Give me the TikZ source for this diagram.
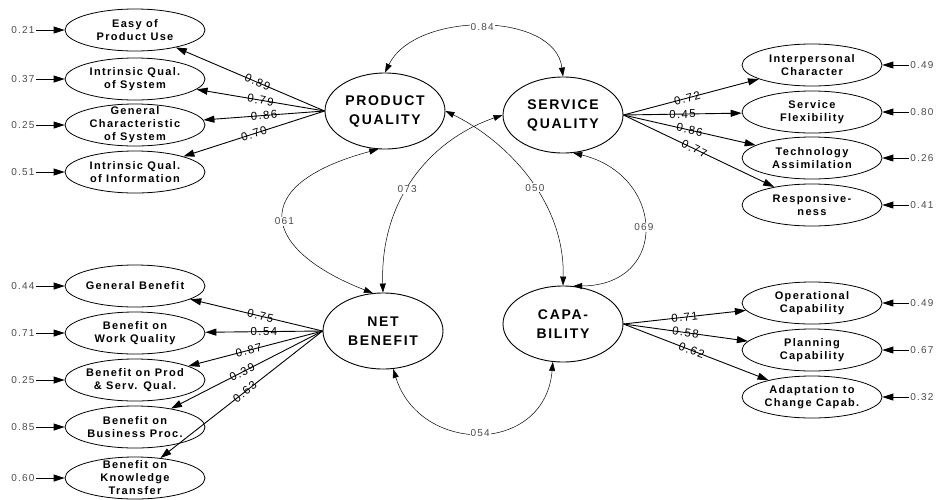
\documentclass[tikz,border=0pt]{standalone}
\usepackage{fontspec}
\setmainfont{Liberation Sans}
\newfontfamily\semfont[LetterSpace=12]{Liberation Sans}
\usepackage{tikz}
\usetikzlibrary{arrows.meta,shapes.geometric}
\definecolor{semgray}{HTML}{4A4A4A}

\tikzset{
  latent/.style={ellipse, draw, line width=0.9pt, minimum width=120pt, minimum height=76pt,
    inner sep=0pt, align=center, font=\semfont\bfseries\fontsize{14}{19}\selectfont},
  ind/.style={ellipse, draw, line width=0.8pt, minimum width=140pt, minimum height=42pt,
    inner xsep=-3pt, inner ysep=-6pt, align=center, font=\semfont\bfseries\fontsize{11}{13}\selectfont},
  err/.style={font=\semfont\fontsize{10}{12}\selectfont, text=semgray, inner sep=1.5pt},
  errarrow/.style={-{Triangle[length=11pt,width=7pt]}, line width=0.9pt},
  load/.style={-{Triangle[length=11pt,width=7pt]}, line width=0.9pt},
  lam/.style={sloped, font=\semfont\fontsize{11.5}{13}\selectfont, inner sep=0pt},
  cov/.style={{Triangle[length=9pt,width=6pt]}-{Triangle[length=9pt,width=6pt]}, line width=0.5pt},
  covlab/.style={fill=white, text=semgray, font=\semfont\fontsize{10}{12}\selectfont, inner sep=1pt},
}

\begin{document}
\begin{tikzpicture}[x=1pt, y=-1pt]
  \useasboundingbox (0,0) rectangle (938,499);

  % latent constructs
  \node[latent] (pq) at (385,111) {PRODUCT\\QUALITY};
  \node[latent] (sq) at (563,115) {SERVICE\\QUALITY};
  \node[latent] (nb) at (383,331) {NET\\BENEFIT};
  \node[latent] (cap) at (563,324) {CAPA-\\BILITY};

  % product quality indicators
  \node[ind] (pq1) at (135,30) {Easy of\\Product Use};
  \node[ind] (pq2) at (135,79) {Intrinsic Qual.\\of System};
  \node[ind] (pq3) at (135,125) {General\\Characteristic\\of System};
  \node[ind] (pq4) at (135,172) {Intrinsic Qual.\\of Information};

  % net benefit indicators
  \node[ind] (nb1) at (135,286) {General Benefit};
  \node[ind] (nb2) at (135,333) {Benefit on\\Work Quality};
  \node[ind] (nb3) at (135,380) {Benefit on Prod\\\& Serv. Qual.};
  \node[ind] (nb4) at (135,427) {Benefit on\\Business Proc.};
  \node[ind] (nb5) at (135,478) {Benefit on\\Knowledge\\Transfer};

  % service quality indicators
  \node[ind] (sq1) at (812,65) {Interpersonal\\Character};
  \node[ind] (sq2) at (812,112) {Service\\Flexibility};
  \node[ind] (sq3) at (812,158) {Technology\\Assimilation};
  \node[ind] (sq4) at (812,205) {Responsive-\\ness};

  % capability indicators
  \node[ind] (cap1) at (812,303) {Operational\\Capability};
  \node[ind] (cap2) at (812,350) {Planning\\Capability};
  \node[ind] (cap3) at (812,397) {Adaptation to\\Change Capab.};

  % error terms, left
  \node[err] (epq1) at (23,30) {0.21};
  \node[err] (epq2) at (23,79) {0.37};
  \node[err] (epq3) at (23,125) {0.25};
  \node[err] (epq4) at (23,172) {0.51};
  \node[err] (enb1) at (23,286) {0.44};
  \node[err] (enb2) at (23,333) {0.71};
  \node[err] (enb3) at (23,380) {0.25};
  \node[err] (enb4) at (23,427) {0.85};
  \node[err] (enb5) at (23,478) {0.60};
  % error terms, right
  \node[err] (esq1) at (922,65) {0.49};
  \node[err] (esq2) at (922,112) {0.80};
  \node[err] (esq3) at (922,158) {0.26};
  \node[err] (esq4) at (922,205) {0.41};
  \node[err] (ecap1) at (922,303) {0.49};
  \node[err] (ecap2) at (922,350) {0.67};
  \node[err] (ecap3) at (922,397) {0.32};

  \draw[errarrow] (epq1) -- (pq1);
  \draw[errarrow] (epq2) -- (pq2);
  \draw[errarrow] (epq3) -- (pq3);
  \draw[errarrow] (epq4) -- (pq4);
  \draw[errarrow] (enb1) -- (nb1);
  \draw[errarrow] (enb2) -- (nb2);
  \draw[errarrow] (enb3) -- (nb3);
  \draw[errarrow] (enb4) -- (nb4);
  \draw[errarrow] (enb5) -- (nb5);
  \draw[errarrow] (esq1) -- (sq1);
  \draw[errarrow] (esq2) -- (sq2);
  \draw[errarrow] (esq3) -- (sq3);
  \draw[errarrow] (esq4) -- (sq4);
  \draw[errarrow] (ecap1) -- (cap1);
  \draw[errarrow] (ecap2) -- (cap2);
  \draw[errarrow] (ecap3) -- (cap3);

  % loadings
  \draw[load] (pq.west) -- node[lam, pos=0.45] {0.89} (pq1);
  \draw[load] (pq.west) -- node[lam, pos=0.5] {0.79} (pq2);
  \draw[load] (pq.west) -- node[lam, pos=0.5] {0.86} (pq3);
  \draw[load] (pq.west) -- node[lam, pos=0.5] {0.70} (pq4);
  \draw[load] (nb.west) -- node[lam, pos=0.47] {0.75} (nb1);
  \draw[load] (nb.west) -- node[lam, pos=0.5] {0.54} (nb2);
  \draw[load] (nb.west) -- node[lam, pos=0.55] {0.87} (nb3);
  \draw[load] (nb.west) -- node[lam, pos=0.53] {0.39} (nb4);
  \draw[load] (nb.west) -- node[lam, pos=0.48] {0.63} (nb5);
  \draw[load] (sq.east) -- node[lam, pos=0.47] {0.72} (sq1);
  \draw[load] (sq.east) -- node[lam, pos=0.5] {0.45} (sq2);
  \draw[load] (sq.east) -- node[lam, pos=0.5] {0.86} (sq3);
  \draw[load] (sq.east) -- node[lam, pos=0.47] {0.77} (sq4);
  \draw[load] (cap.east) -- node[lam, pos=0.5] {0.71} (cap1);
  \draw[load] (cap.east) -- node[lam, pos=0.5] {0.58} (cap2);
  \draw[load] (cap.east) -- node[lam, pos=0.47] {0.62} (cap3);

  % correlations between constructs
  \draw[cov] (pq.north) .. controls (415,11) and (555,11) .. node[covlab] {0.84} (sq.north);
  \draw[cov] (pq.260) .. controls (245,185) and (262,250) .. node[covlab, pos=0.52] {061} (nb.105);
  \draw[cov] (sq.west) .. controls (430,140) and (380,200) .. node[covlab, pos=0.56] {073} (nb.north);
  \draw[cov] (pq.east) .. controls (505,140) and (565,200) .. node[covlab, pos=0.56] {050} (cap.north);
  \draw[cov] (sq.285) .. controls (665,175) and (670,285) .. node[covlab] {069} (cap.75);
  \draw[cov] (nb.285) .. controls (420,455) and (545,455) .. node[covlab] {054} (cap.255);
\end{tikzpicture}
\end{document}
